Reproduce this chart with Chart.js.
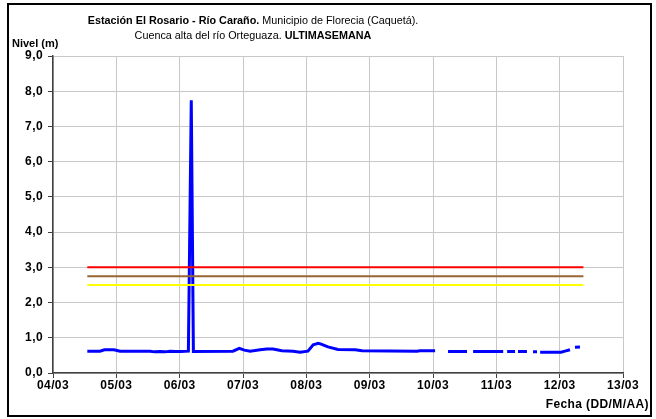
<!DOCTYPE html>
<html><head><meta charset="utf-8">
<script src="https://cdn.jsdelivr.net/npm/chart.js@4"></script>
<style>html,body{margin:0;padding:0;background:#fff}#wrap{width:656px;height:419px;position:relative}</style>
</head><body><div id="wrap"><canvas id="c" width="656" height="419"></canvas></div>
<script>
// Hours since 04/03 00:00 and level (m); null = missing data (gap)
const horas = [13.0, 17.8, 19.5, 23.1, 25.4, 36.8, 38.5, 40.5, 42.5, 44.3, 46.5, 48.4, 51.3, 52.4, 53.2,
  68.2, 70.6, 72.5, 74.7, 78.5, 81.0, 83.4, 86.7, 91.0, 93.6, 96.6, 98.6, 100.5, 101.6, 104.2, 108.0,
  114.5, 117.1, 138.0, 139.0, 144.8, 147.0, 149.7, 156.9, 158.0, 159.2, 170.6, 171.3, 172.1, 175.1, 175.6, 176.2,
  179.6, 180.7, 181.9, 183.4, 184.0, 184.6, 192.5, 194.0, 195.9, 196.8, 197.8, 199.7];
const niveles = [0.62, 0.62, 0.66, 0.66, 0.62, 0.62, 0.60, 0.61, 0.60, 0.62, 0.61, 0.61, 0.62, 7.74, 0.61,
  0.62, 0.70, 0.65, 0.62, 0.66, 0.68, 0.68, 0.63, 0.62, 0.59, 0.62, 0.80, 0.84, 0.82, 0.74, 0.67,
  0.66, 0.63, 0.62, 0.63, 0.63, null, 0.61, 0.61, null, 0.61, 0.61, null, 0.61, 0.61, null, 0.61,
  0.61, null, 0.60, 0.60, null, 0.59, 0.59, 0.62, 0.66, null, 0.73, 0.74];
const umbralHoras = [13, 201];
const umbralRojo = [3.0, 3.0];
const umbralNaranja = [2.75, 2.75];
const umbralAmarillo = [2.5, 2.5];
const diasEtiquetas = ['04/03','05/03','06/03','07/03','08/03','09/03','10/03','11/03','12/03','13/03'];

const pts = (xs, ys) => xs.map((x, i) => ({x: x, y: ys[i]}));
const F = "'Liberation Sans', Arial, sans-serif";

const textPlugin = {
  id: 'textos',
  beforeDraw(chart) {
    chart.ctx.letterSpacing = '0.4px';
  },
  afterDraw(chart) {
    const ctx = chart.ctx;
    ctx.save();
    ctx.letterSpacing = '0px';
    ctx.strokeStyle = '#000';
    ctx.lineWidth = 2;
    ctx.strokeRect(8, 4, 643, 412);
    ctx.fillStyle = '#000';
    ctx.textBaseline = 'alphabetic';
    ctx.textAlign = 'left';
    function mixed(parts, cx, y) {
      let total = 0;
      parts.forEach(p => { ctx.font = (p[1] ? 'bold ' : '') + '10.8px ' + F; p.w = ctx.measureText(p[0]).width; total += p.w; });
      let x = cx - total / 2;
      parts.forEach(p => { ctx.font = (p[1] ? 'bold ' : '') + '10.8px ' + F; ctx.fillText(p[0], x, y); x += p.w; });
    }
    mixed([['Estación El Rosario - Río Caraño.', true], [' Municipio de Florecia (Caquetá).', false]], 253, 24);
    mixed([['Cuenca alta del río Orteguaza. ', false], ['ULTIMASEMANA', true]], 253, 39);
    ctx.font = 'bold 11px ' + F;
    ctx.fillText('Nivel (m)', 12, 47);
    ctx.font = 'bold 12px ' + F;
    ctx.letterSpacing = '0.4px';
    ctx.textAlign = 'right';
    ctx.fillText('Fecha (DD/M/AA)', 649, 408);
    ctx.restore();
  }
};

const tickFont = {family: F, size: 12, weight: 'bold'};

new Chart(document.getElementById('c'), {
  type: 'line',
  data: {
    datasets: [
      {data: pts(umbralHoras, umbralRojo), borderColor: '#ff0000', borderWidth: 2, pointRadius: 0},
      {data: pts(umbralHoras, umbralNaranja), borderColor: '#996633', borderWidth: 2, pointRadius: 0},
      {data: pts(umbralHoras, umbralAmarillo), borderColor: '#ffff00', borderWidth: 2, pointRadius: 0},
      {data: pts(horas, niveles), borderColor: '#0000ff', borderWidth: 3, pointRadius: 0, spanGaps: false}
    ]
  },
  options: {
    responsive: false,
    animation: false,
    events: [],
    layout: {padding: {left: 0, top: 56, right: 33, bottom: 0}},
    plugins: {legend: {display: false}, tooltip: {enabled: false}, title: {display: false}},
    elements: {line: {tension: 0}},
    scales: {
      x: {
        type: 'linear', min: 0, max: 216,
        afterFit: s => { s.height = 46; },
        ticks: {stepSize: 24, autoSkip: false, maxRotation: 0, padding: 0, color: '#000', font: tickFont,
          callback: v => diasEtiquetas[Math.round(v / 24)]},
        grid: {color: '#c8c8c8', tickColor: '#404040', tickLength: 5, lineWidth: 1},
        border: {color: '#404040', width: 1.5}
      },
      y: {
        min: 0, max: 9,
        afterFit: s => { s.width = 53; },
        ticks: {stepSize: 1, padding: 5, color: '#000', font: tickFont,
          callback: v => v.toFixed(1).replace('.', ',')},
        grid: {color: '#c8c8c8', tickColor: '#404040', tickLength: 5, lineWidth: 1},
        border: {color: '#404040', width: 1.5}
      }
    }
  },
  plugins: [textPlugin]
});
</script>
</body></html>
